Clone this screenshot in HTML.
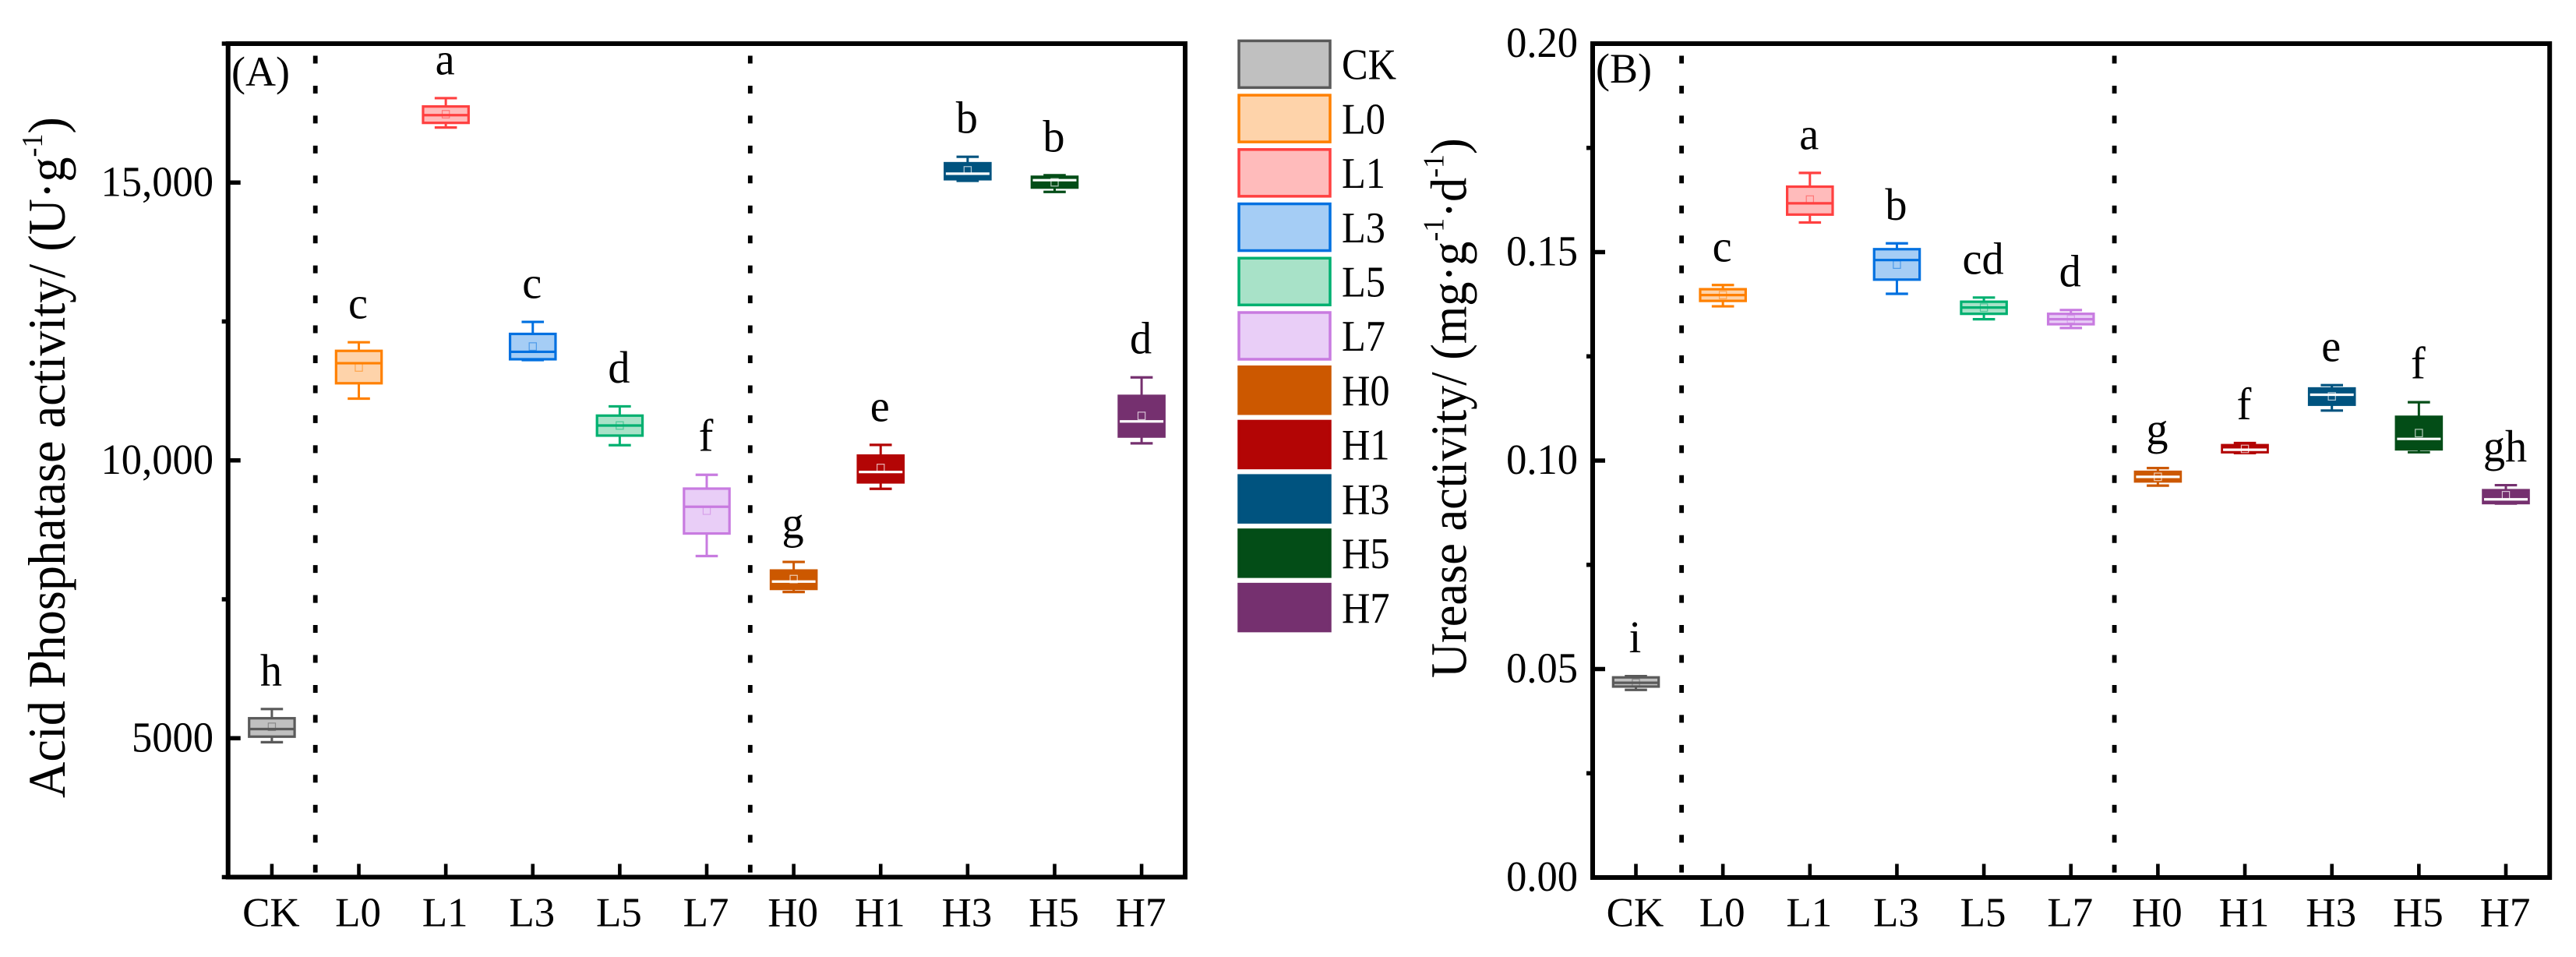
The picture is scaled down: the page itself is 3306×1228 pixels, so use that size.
<!DOCTYPE html>
<html lang="en">
<head>
<meta charset="utf-8">
<title>Acid phosphatase and urease activity box plots</title>
<style>
  html, body { margin: 0; padding: 0; background: #fff; }
  svg { display: block; }
  text { font-family: "Liberation Serif", "Times New Roman", serif; fill: #000; }
</style>
</head>
<body>
<svg id="figure" xmlns="http://www.w3.org/2000/svg" width="3306" height="1228" viewBox="0 0 3306 1228">
  <rect x="0" y="0" width="3306" height="1228" fill="#fff"/>
  <g id="panel-a"></g>
  <g id="panel-b"></g>
  <g id="legend"></g>
  <text transform="translate(83,1024) rotate(-90) scale(0.945,1)" font-size="68">Acid Phosphatase activity/ (U·g<tspan dy="-29" font-size="38">-1</tspan><tspan dy="29">)</tspan></text>
  <text transform="translate(1881.6,870) rotate(-90) scale(0.944,1)" font-size="66">Urease activity/ (mg·g<tspan dy="-29" font-size="38">-1</tspan><tspan dy="29">·d</tspan><tspan dy="-29" font-size="38">-1</tspan><tspan dy="29">)</tspan></text>
  <text x="297" y="110" font-size="54">(A)</text>
  <text x="2048" y="106" font-size="54">(B)</text>
</svg>
<script>
// Shared categories
const categories = ['CK','L0','L1','L3','L5','L7','H0','H1','H3','H5','H7'];

// Panel A: acid phosphatase activity
const apWhiskerHigh = [5525,12126,16519,12492,10972,9741,8172,10279,15464,15132,11494];
const apQ3          = [5359,11971,16369,12276,10806,9492,8018,10086,15348,15104,11161];
const apMedian      = [5165,11749,16213,11954,10628,9165,7819,9791,15160,15043,10701];
const apMean        = [5205,11672,16230,12049,10628,9095,7864,9864,15220,15004,10801];
const apQ1          = [5028,11388,16074,11820,10446,8684,7687,9604,15060,14910,10429];
const apWhiskerLow  = [4928,11111,15991,11805,10273,8278,7631,9488,15032,14832,10307];
const apLetters     = ['h','c','a','c','d','f','g','e','b','b','d'];
const apMajorTicks  = [5000,10000,15000];
const apMajorLabels = ['5000','10,000','15,000'];
const apMinorTicks  = [2500,7500,12500,17500];
const apRange       = [2500,17500];

// Panel B: urease activity
const urWhiskerHigh = [0.0483,0.1421,0.1690,0.1521,0.1391,0.1361,0.0982,0.1042,0.1181,0.1140,0.0941];
const urQ3          = [0.0480,0.1411,0.1657,0.1507,0.1381,0.1352,0.0973,0.1037,0.1173,0.1105,0.0929];
const urMedian      = [0.0467,0.1397,0.1617,0.1481,0.1367,0.1339,0.0961,0.1026,0.1158,0.1052,0.0907];
const urMean        = [0.0467,0.1397,0.1626,0.1470,0.1367,0.1339,0.0961,0.1028,0.1154,0.1066,0.0917];
const urQ1          = [0.0458,0.1383,0.1590,0.1434,0.1352,0.1327,0.0950,0.1020,0.1134,0.1027,0.0898];
const urWhiskerLow  = [0.0450,0.1370,0.1571,0.1400,0.1339,0.1318,0.0940,0.1018,0.1120,0.1020,0.0897];
const urLetters     = ['i','c','a','b','cd','d','g','f','e','f','gh'];
const urMajorTicks  = [0,0.05,0.10,0.15,0.20];
const urMajorLabels = ['0.00','0.05','0.10','0.15','0.20'];
const urMinorTicks  = [0.025,0.075,0.125,0.175];
const urRange       = [0,0.20];

// Series colours
const strokeColors = ['#5a5a5a','#ff8000','#ff4040','#0070e0','#00b070','#c87be0','#cc5800','#b30505','#00537f','#034d17','#75306f'];
const fillColors   = ['#c0c0c0','#fed3aa','#ffbbbb','#a5cdf5','#a8e2c8','#e9cef7','#cc5800','#b30505','#00537f','#034d17','#75306f'];

const SVG_NS = 'http://www.w3.org/2000/svg';

function make(parent, tag, attrs) {
  const node = document.createElementNS(SVG_NS, tag);
  for (const key in attrs) node.setAttribute(key, attrs[key]);
  parent.appendChild(node);
  return node;
}

function makeText(parent, str, x, y, size, anchor, squeeze) {
  const node = make(parent, 'text', { x: x, y: y, 'font-size': size, 'text-anchor': anchor });
  node.textContent = str;
  if (squeeze !== 1) {
    node.setAttribute('textLength', (node.getComputedTextLength() * squeeze).toFixed(2));
    node.setAttribute('lengthAdjust', 'spacingAndGlyphs');
  }
  return node;
}

function drawPanel(root, cfg) {
  const xAt = i => cfg.firstX + cfg.stepX * i;
  const yAt = v => cfg.yBottom - (v - cfg.range[0]) / (cfg.range[1] - cfg.range[0]) * (cfg.yBottom - cfg.yTop);
  const prefix = cfg.prefix;

  // Separator dashed lines
  cfg.dividerSlots.forEach(slot => {
    const line = make(root, 'line', { x1: xAt(slot), x2: xAt(slot), y1: 71.5, y2: 1120, stroke: '#000', 'stroke-width': 5.8, 'stroke-dasharray': '10 28.45' });
    
    
  });

  // Axis frame
  const frame = make(root, 'rect', { x: cfg.xLeft, y: cfg.yTop, width: cfg.xRight - cfg.xLeft, height: cfg.yBottom - cfg.yTop, fill: 'none', stroke: '#000', 'stroke-width': 6 });
  
  

  // Y ticks
  cfg.majorTicks.forEach((v, i) => {
    const y = yAt(v);
    const tick = make(root, 'line', { x1: cfg.xLeft, x2: cfg.xLeft + 16, y1: y, y2: y, stroke: '#000', 'stroke-width': 5.5 });
    
    
    const label = makeText(root, cfg.majorLabels[i], cfg.yLabelRight, y + 17, 55, 'end', 0.955);
    
    
  });
  cfg.minorTicks.forEach(v => {
    const y = yAt(v);
    const tick = make(root, 'line', { x1: cfg.xLeft - 8, x2: cfg.xLeft, y1: y, y2: y, stroke: '#000', 'stroke-width': 5.5 });
    
    
  });

  // Categories
  categories.forEach((cat, i) => {
    const x = xAt(i);
    const tick = make(root, 'line', { x1: x, x2: x, y1: 1108.5, y2: cfg.yBottom, stroke: '#000', 'stroke-width': 4.6 });
    
    
    const catLabel = makeText(root, cat, x - 1, 1188.5, 53, 'middle', 1);
    
    

    const stroke = strokeColors[i];
    const fill = fillColors[i];
    const dark = i >= 6;
    const group = make(root, 'g', {});
    
    

    const stem = make(group, 'line', { x1: x, x2: x, y1: yAt(cfg.high[i]), y2: yAt(cfg.low[i]), stroke: stroke, 'stroke-width': 3 });
    
    
    const capHigh = make(group, 'line', { x1: x - 14.3, x2: x + 14.3, y1: yAt(cfg.high[i]), y2: yAt(cfg.high[i]), stroke: stroke, 'stroke-width': 3.2 });
    
    
    const capLow = make(group, 'line', { x1: x - 14.3, x2: x + 14.3, y1: yAt(cfg.low[i]), y2: yAt(cfg.low[i]), stroke: stroke, 'stroke-width': 3.2 });
    
    

    const box = make(group, 'rect', { x: x - 29.2, y: yAt(cfg.q3[i]), width: 58.4, height: yAt(cfg.q1[i]) - yAt(cfg.q3[i]), fill: fill, stroke: stroke, 'stroke-width': 3.2 });
    
    

    const median = make(group, 'line', { x1: x - 28, x2: x + 28, y1: yAt(cfg.median[i]), y2: yAt(cfg.median[i]), stroke: dark ? '#ffffff' : stroke, 'stroke-width': 3.2 });
    
    

    const mean = make(group, 'rect', { x: x - 4.6, y: yAt(cfg.mean[i]) - 4.8, width: 9.2, height: 9.6, fill: 'none', stroke: dark ? '#ffffff' : stroke, 'stroke-width': 1.2, 'stroke-opacity': dark ? 0.7 : 0.55 });
    
    

    const sig = makeText(root, cfg.letters[i], x - 1, yAt(cfg.high[i]) - 30.5, 58, 'middle', 0.97);
    
    
  });
}

drawPanel(document.getElementById('panel-a'), {
  prefix: 'panel-a',
  range: apRange, majorTicks: apMajorTicks, majorLabels: apMajorLabels, minorTicks: apMinorTicks,
  high: apWhiskerHigh, q3: apQ3, median: apMedian, mean: apMean, q1: apQ1, low: apWhiskerLow, letters: apLetters,
  xLeft: 292.7, xRight: 1521, yTop: 56, yBottom: 1125.5,
  firstX: 348.9, stepX: 111.62, dividerSlots: [0.5, 5.5], yLabelRight: 274
});

drawPanel(document.getElementById('panel-b'), {
  prefix: 'panel-b',
  range: urRange, majorTicks: urMajorTicks, majorLabels: urMajorLabels, minorTicks: urMinorTicks,
  high: urWhiskerHigh, q3: urQ3, median: urMedian, mean: urMean, q1: urQ1, low: urWhiskerLow, letters: urLetters,
  xLeft: 2044, xRight: 3272.2, yTop: 56, yBottom: 1126,
  firstX: 2099.5, stepX: 111.65, dividerSlots: [0.525, 5.5], yLabelRight: 2025
});

// Legend
const legendRoot = document.getElementById('legend');
categories.forEach((cat, i) => {
  const entry = make(legendRoot, 'g', {});
  
  
  const swatch = make(entry, 'rect', { x: 1590, y: 52.4 + 69.72 * i, width: 117, height: 60, fill: fillColors[i], stroke: strokeColors[i], 'stroke-width': 3.5 });
  
  
  const label = makeText(entry, cat, 1722, 101.6 + 69.72 * i, 56, 'start', 0.9);
  
  
});
</script>
</body>
</html>
